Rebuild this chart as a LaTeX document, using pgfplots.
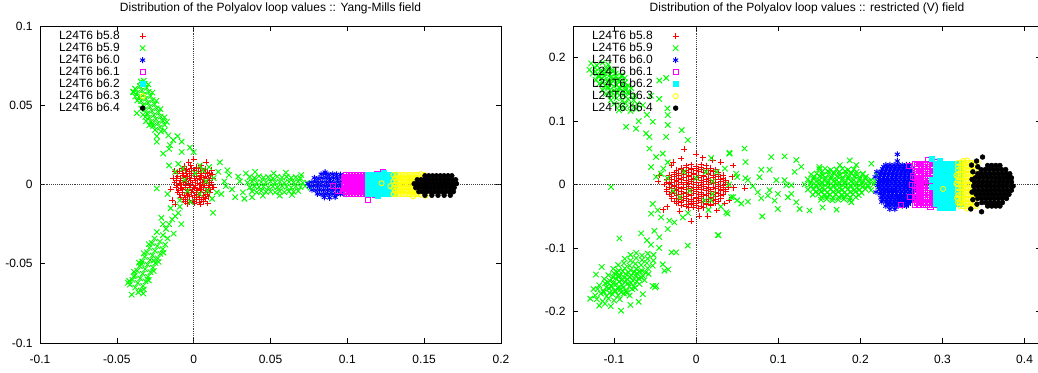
\documentclass[border=0pt]{standalone}
\usepackage{fontspec}
\setmainfont{Liberation Sans}
\usepackage{pgfplots}
\pgfplotsset{compat=1.18}
\definecolor{gpred}{rgb}{1,0,0}
\definecolor{gpgreen}{rgb}{0,1,0}
\definecolor{gpblue}{rgb}{0,0,1}
\definecolor{gpmag}{rgb}{1,0,1}
\definecolor{gpcyan}{rgb}{0,1,1}
\definecolor{gpyel}{rgb}{1,1,0}
\pgfplotsset{
  gp/.style={
    scale only axis, axis line style={line width=0.7pt},
    tick align=inside, major tick length=3.4pt,
    tick style={black, line width=0.5pt},
    /pgf/number format/assume math mode=true,
    tick label style={font=\fontsize{9}{10}\selectfont},
    xticklabel style={yshift=-5.5pt},
    yticklabel style={xshift=-2pt},
    scaled ticks=false,
    title style={font=\fontsize{9}{10}\selectfont, at={(0.5,1)}, anchor=base, yshift=5.25pt},
    extra x ticks={0}, extra y ticks={0}, extra x tick labels={}, extra y tick labels={},
    extra tick style={grid=major, major tick length=0pt, major grid style={black!75, densely dotted, line width=0.5pt}},
    legend plot pos=right, legend cell align=left,
    legend image code/.code={\path (0pt,0pt) (22pt,0pt); \draw[##1] plot coordinates {(17pt,0pt)};},
    legend style={draw=none, fill=none, inner sep=0pt, outer sep=0pt,
      at={(0,1)}, anchor=north west, xshift=14.25pt, yshift=-3.6pt,
      font=\fontsize{9}{10}\selectfont, row sep=1pt, column sep=0pt,
      nodes={inner sep=0pt, text height=6.5pt, text depth=1.5pt}},
  },
  s58/.style={only marks, mark=+, mark size=2.2pt, color=gpred, mark options={line width=0.7pt}},
  s59/.style={only marks, mark=x, mark size=2.9pt, color=gpgreen, mark options={line width=0.7pt}},
  s60/.style={only marks, mark=asterisk, mark size=2.2pt, color=gpblue, mark options={line width=0.7pt}},
  s61/.style={only marks, mark=square, mark size=1.9pt, color=gpmag, mark options={line width=0.7pt}},
  s62/.style={only marks, mark=square*, mark size=1.9pt, color=gpcyan, mark options={line width=0.4pt}},
  s63/.style={only marks, mark=o, mark size=1.9pt, color=gpyel, mark options={line width=0.7pt}},
  s64/.style={only marks, mark=*, mark size=1.8pt, color=black, mark options={line width=0.4pt}},
}
\begin{document}
\begin{tikzpicture}
\useasboundingbox (-30pt,-21.75pt) rectangle (748.5pt,257.25pt);
%================ LEFT =================
\begin{axis}[gp, at={(0,0)}, anchor=south west, width=345.75pt, height=237.75pt,
  xmin=-0.1, xmax=0.2, ymin=-0.1, ymax=0.1,
  xtick={-0.1,-0.05,0,0.05,0.1,0.15,0.2}, xticklabels={-0.1,-0.05,0,0.05,0.1,0.15,0.2},
  ytick={-0.1,-0.05,0,0.05,0.1}, yticklabels={-0.1,-0.05,0,0.05,0.1},
  title={Distribution of the Polyalov loop values :: Yang-Mills field}]
\addplot[s58] coordinates {
(-0.006,0.0115) (-0.002,0.012) (0.002,0.011) (0.005,0.0118)
(-0.009,0.0082) (-0.0055,0.0088) (-0.003,0.008) (0.0005,0.009) (0.0032,0.0083) (0.0062,0.0087) (0.009,0.0078)
(-0.0105,0.0052) (-0.0068,0.0058) (-0.0042,0.005) (-0.0012,0.0056) (0.0021,0.0051) (0.0048,0.0059) (0.0079,0.0053) (0.0108,0.0057)
(-0.0112,0.0024) (-0.0083,0.0028) (-0.0049,0.0021) (-0.0021,0.0027) (0.0012,0.0023) (0.0041,0.0029) (0.0072,0.0022) (0.0101,0.0026)
(-0.0108,-0.0006) (-0.0079,-0.0002) (-0.0052,-0.0008) (-0.0018,-0.0003) (0.0009,-0.0007) (0.0043,-0.0002) (0.0069,-0.0006) (0.0103,-0.0004)
(-0.0098,-0.0036) (-0.0072,-0.0032) (-0.0038,-0.0039) (-0.0011,-0.0033) (0.0022,-0.0037) (0.0049,-0.0031) (0.0081,-0.0038) (0.0107,-0.0034)
(-0.0092,-0.0064) (-0.0058,-0.0069) (-0.0031,-0.0062) (0.0002,-0.0067) (0.0031,-0.0063) (0.0062,-0.0068) (0.0088,-0.0061)
(-0.0068,-0.0096) (-0.0041,-0.0092) (-0.0009,-0.0098) (0.0021,-0.0093) (0.0052,-0.0097) (0.0078,-0.0091)
(-0.0042,-0.0121) (0.0003,-0.0118) (0.0041,-0.0123)
(-0.0075,0.0101) (-0.0045,0.0098) (-0.0015,0.0103) (0.0015,0.0099) (0.0045,0.0102) (0.0075,0.0098)
(-0.0105,0.0071) (-0.0075,0.0068) (-0.0045,0.0072) (-0.0015,0.0069) (0.0015,0.0071) (0.0045,0.0068) (0.0075,0.0072) (0.0105,0.0069)
(-0.0115,0.0041) (-0.0085,0.0038) (-0.0055,0.0042) (-0.0025,0.0039) (0.0005,0.0041) (0.0035,0.0038) (0.0065,0.0042) (0.0095,0.0039) (0.0125,0.0041)
(-0.0125,0.0011) (-0.0095,0.0008) (-0.0065,0.0012) (-0.0035,0.0009) (-0.0005,0.0011) (0.0025,0.0008) (0.0055,0.0012) (0.0085,0.0009) (0.0115,0.0011)
(-0.0115,-0.0019) (-0.0085,-0.0022) (-0.0055,-0.0018) (-0.0025,-0.0021) (0.0005,-0.0019) (0.0035,-0.0022) (0.0065,-0.0018) (0.0095,-0.0021) (0.0125,-0.0019)
(-0.0105,-0.0049) (-0.0075,-0.0052) (-0.0045,-0.0048) (-0.0015,-0.0051) (0.0015,-0.0049) (0.0045,-0.0052) (0.0075,-0.0048) (0.0105,-0.0051)
(-0.0085,-0.0079) (-0.0055,-0.0082) (-0.0025,-0.0078) (0.0005,-0.0081) (0.0035,-0.0079) (0.0065,-0.0082) (0.0095,-0.0078)
(-0.0055,-0.0109) (-0.0025,-0.0112) (0.0005,-0.0108) (0.0035,-0.0111) (0.0065,-0.0109)
(0.0081,0.014) (0.0001,0.016) (-0.0032,0.0142) (-0.015,-0.003) (-0.014,-0.01) (-0.012,-0.0125) (0.0125,0.0062) (0.0132,-0.0018) (-0.0132,0.0041) (0.0092,-0.012) (0.0118,0.009) (-0.0122,0.0085)
};
\addlegendentry{L24T6 b5.8}
\addplot[s59] coordinates {
(-0.0381,0.0604) (-0.035,0.062) (-0.0319,0.0636) (-0.0368,0.0578) (-0.0337,0.0594) (-0.0306,0.061)
(-0.0355,0.0552) (-0.0324,0.0568) (-0.0293,0.0584) (-0.0342,0.0526) (-0.0311,0.0542) (-0.028,0.0558)
(-0.0329,0.05) (-0.0298,0.0516) (-0.0267,0.0532) (-0.0316,0.0474) (-0.0285,0.049) (-0.0254,0.0506)
(-0.0303,0.0448) (-0.0272,0.0464) (-0.0241,0.048) (-0.029,0.0422) (-0.0259,0.0438) (-0.0228,0.0454)
(-0.0277,0.0396) (-0.0246,0.0412) (-0.0215,0.0428) (-0.0264,0.037) (-0.0233,0.0386) (-0.0202,0.0402)
(-0.0251,0.0344) (-0.022,0.036) (-0.0189,0.0376)
(-0.02945,0.0632) (-0.02685,0.058) (-0.02425,0.0528) (-0.02165,0.0476) (-0.01905,0.0424)
(-0.03925,0.0582) (-0.03665,0.053) (-0.03405,0.0478) (-0.03145,0.0426) (-0.02885,0.0374)
(-0.0393,0.0586) (-0.038,0.0555) (-0.037,0.045) (-0.0345,0.065) (-0.0325,0.0655) (-0.031,0.04) (-0.0213,0.0335) (-0.024,0.0305) (-0.019,0.034) (-0.027,0.038) (-0.0175,0.0395) (-0.033,0.044)
(-0.024,0.027) (-0.0198,0.0195) (-0.0078,0.0205) (-0.0024,0.0233) (0.0,0.0205) (-0.0165,0.031) (-0.0133,0.028) (-0.0078,0.027) (-0.0154,0.0248) (-0.0105,0.0305) (-0.016,0.0225)
(-0.0415,-0.0631) (-0.038,-0.065) (-0.0345,-0.0669) (-0.0399,-0.0602) (-0.0364,-0.0621) (-0.0329,-0.064)
(-0.0383,-0.0573) (-0.0348,-0.0592) (-0.0313,-0.0611) (-0.0367,-0.0544) (-0.0332,-0.0563) (-0.0297,-0.0582)
(-0.0351,-0.0515) (-0.0316,-0.0534) (-0.0281,-0.0553) (-0.0335,-0.0486) (-0.03,-0.0505) (-0.0265,-0.0524)
(-0.0319,-0.0457) (-0.0284,-0.0476) (-0.0249,-0.0495) (-0.0303,-0.0428) (-0.0268,-0.0447) (-0.0233,-0.0466)
(-0.0287,-0.0399) (-0.0252,-0.0418) (-0.0217,-0.0437) (-0.0271,-0.037) (-0.0236,-0.0389) (-0.0201,-0.0408)
(-0.0255,-0.0341) (-0.022,-0.036) (-0.0185,-0.0379)
(-0.0324,-0.0662) (-0.0292,-0.0604) (-0.026,-0.0546) (-0.0228,-0.0488) (-0.0196,-0.043)
(-0.042,-0.0609) (-0.0388,-0.0551) (-0.0356,-0.0493) (-0.0324,-0.0435) (-0.0292,-0.0377)
(-0.0403,-0.0695) (-0.0328,-0.0688) (-0.0427,-0.062) (-0.036,-0.068) (-0.03,-0.06) (-0.039,-0.058) (-0.026,-0.048) (-0.034,-0.05)
(-0.02,-0.032) (-0.018,-0.028) (-0.016,-0.025) (-0.014,-0.022) (-0.012,-0.02) (-0.01,-0.018) (-0.015,-0.015) (-0.008,-0.025) (-0.02,-0.025) (-0.024,-0.03) (-0.017,-0.034) (-0.013,-0.031) (-0.021,-0.021) (-0.009,-0.014)
(0.0365,0.0048) (0.0395,0.0041) (0.0425,0.0052) (0.0455,0.0043) (0.0485,0.0047) (0.0515,0.004) (0.0545,0.005) (0.0575,0.0044) (0.0605,0.0049) (0.0635,0.0042) (0.0665,0.0046) (0.0695,0.004)
(0.035,0.0012) (0.038,0.0018) (0.041,0.0011) (0.044,0.0016) (0.047,0.0013) (0.05,0.0019) (0.053,0.0012) (0.056,0.0017) (0.059,0.001) (0.062,0.0016) (0.065,0.0013) (0.068,0.0018) (0.071,0.0011)
(0.0365,-0.0018) (0.0395,-0.0011) (0.0425,-0.0016) (0.0455,-0.0013) (0.0485,-0.0019) (0.0515,-0.0012) (0.0545,-0.0017) (0.0575,-0.001) (0.0605,-0.0015) (0.0635,-0.0019) (0.0665,-0.0012) (0.0695,-0.0016) (0.0725,-0.001)
(0.038,-0.0043) (0.041,-0.0049) (0.044,-0.0041) (0.047,-0.0047) (0.05,-0.0044) (0.053,-0.005) (0.056,-0.0042) (0.059,-0.0048) (0.062,-0.0043) (0.065,-0.0046) (0.068,-0.0041)
(0.022,0.009) (0.023,0.006) (0.025,-0.003) (0.027,-0.008) (0.03,0.002) (0.032,-0.005) (0.029,0.005) (0.034,0.007) (0.033,-0.009) (0.038,-0.008) (0.04,0.008) (0.021,-0.001) (0.074,0.001) (0.076,-0.002) (0.045,-0.007) (0.052,0.007) (0.06,0.0075) (0.064,-0.0065) (0.056,-0.007) (0.07,0.006)
(-0.012,0.008) (-0.009,-0.01) (0.01,0.011) (0.013,0.004) (0.015,-0.005) (0.012,-0.009) (0.017,0.014) (-0.024,-0.0025) (0.0126,-0.0178) (-0.006,0.003) (0.004,-0.006) (0.001,0.007) (-0.004,-0.004) (0.008,0.002) (0.006,0.009) (-0.016,0.012) (-0.017,-0.006) (0.018,-0.006) (0.02,0.002) (-0.01,0.013) (0.004,0.012) (-0.002,-0.011) (0.009,-0.004) (-0.007,0.01) (0.016,0.008)
};
\addlegendentry{L24T6 b5.9}
\addplot[s60] coordinates {
(0.083,0.0065) (0.0855,0.0068) (0.088,0.0063) (0.0905,0.0067) (0.093,0.0064) (0.0955,0.0062)
(0.0785,0.0042) (0.081,0.0038) (0.0835,0.0041) (0.086,0.0043) (0.0885,0.0039) (0.091,0.0042) (0.0935,0.0038) (0.096,0.0041) (0.0985,0.004)
(0.0765,0.0014) (0.079,0.0017) (0.0815,0.0013) (0.084,0.0016) (0.0865,0.0014) (0.089,0.0017) (0.0915,0.0012) (0.094,0.0016) (0.0965,0.0014) (0.099,0.0017)
(0.0755,-0.0011) (0.078,-0.0008) (0.0805,-0.0012) (0.083,-0.0009) (0.0855,-0.0011) (0.088,-0.0008) (0.0905,-0.0012) (0.093,-0.001) (0.0955,-0.0008) (0.098,-0.0011) (0.1005,-0.0009)
(0.077,-0.0034) (0.0795,-0.0037) (0.082,-0.0033) (0.0845,-0.0036) (0.087,-0.0034) (0.0895,-0.0037) (0.092,-0.0033) (0.0945,-0.0036) (0.097,-0.0035) (0.0995,-0.0033)
(0.0805,-0.0059) (0.083,-0.0062) (0.0855,-0.0058) (0.088,-0.0061) (0.0905,-0.0059) (0.093,-0.0062) (0.0955,-0.0058) (0.098,-0.006)
(0.085,-0.0081) (0.0885,-0.0084) (0.092,-0.008) (0.0744,0.0005) (0.0855,0.0078)
};
\addlegendentry{L24T6 b6.0}
\addplot[s61] coordinates {
(0.099,0.006) (0.101,0.006) (0.103,0.006) (0.105,0.006) (0.107,0.006) (0.109,0.006) (0.111,0.006) (0.113,0.006) (0.115,0.006) (0.117,0.006)
(0.098,0.004) (0.1,0.004) (0.102,0.004) (0.104,0.004) (0.106,0.004) (0.108,0.004) (0.11,0.004) (0.112,0.004) (0.114,0.004) (0.116,0.004)
(0.099,0.002) (0.101,0.002) (0.103,0.002) (0.105,0.002) (0.107,0.002) (0.109,0.002) (0.111,0.002) (0.113,0.002) (0.115,0.002) (0.117,0.002)
(0.098,0) (0.1,0) (0.102,0) (0.104,0) (0.106,0) (0.108,0) (0.11,0) (0.112,0) (0.114,0) (0.116,0)
(0.099,-0.002) (0.101,-0.002) (0.103,-0.002) (0.105,-0.002) (0.107,-0.002) (0.109,-0.002) (0.111,-0.002) (0.113,-0.002) (0.115,-0.002) (0.117,-0.002)
(0.098,-0.004) (0.1,-0.004) (0.102,-0.004) (0.104,-0.004) (0.106,-0.004) (0.108,-0.004) (0.11,-0.004) (0.112,-0.004) (0.114,-0.004) (0.116,-0.004)
(0.099,-0.006) (0.101,-0.006) (0.103,-0.006) (0.105,-0.006) (0.107,-0.006) (0.109,-0.006) (0.111,-0.006) (0.113,-0.006) (0.115,-0.006) (0.117,-0.006)
(0.0985,0.005) (0.1005,0.005) (0.1025,0.005) (0.1045,0.005) (0.1065,0.005) (0.1085,0.005) (0.1105,0.005) (0.1125,0.005)
(0.0995,0.003) (0.1015,0.003) (0.1035,0.003) (0.1055,0.003) (0.1075,0.003) (0.1095,0.003) (0.1115,0.003) (0.1135,0.003)
(0.0985,0.001) (0.1005,0.001) (0.1025,0.001) (0.1045,0.001) (0.1065,0.001) (0.1085,0.001) (0.1105,0.001) (0.1125,0.001)
(0.0995,-0.001) (0.1015,-0.001) (0.1035,-0.001) (0.1055,-0.001) (0.1075,-0.001) (0.1095,-0.001) (0.1115,-0.001) (0.1135,-0.001)
(0.0985,-0.003) (0.1005,-0.003) (0.1025,-0.003) (0.1045,-0.003) (0.1065,-0.003) (0.1085,-0.003) (0.1105,-0.003) (0.1125,-0.003)
(0.0995,-0.005) (0.1015,-0.005) (0.1035,-0.005) (0.1055,-0.005) (0.1075,-0.005) (0.1095,-0.005) (0.1115,-0.005) (0.1135,-0.005)
(0.0907,-0.001) (0.094,-0.0038) (0.1136,-0.0095) (0.123,0.0078) (0.119,0.0065) (0.118,-0.0065)
};
\addlegendentry{L24T6 b6.1}
\addplot[s62] coordinates {
(0.113,0.006) (0.116,0.006) (0.119,0.006) (0.122,0.006) (0.125,0.006) (0.128,0.006) (0.131,0.006)
(0.113,0.003) (0.116,0.003) (0.119,0.003) (0.122,0.003) (0.125,0.003) (0.128,0.003) (0.131,0.003)
(0.113,0) (0.116,0) (0.119,0) (0.122,0) (0.125,0) (0.128,0) (0.131,0)
(0.113,-0.003) (0.116,-0.003) (0.119,-0.003) (0.122,-0.003) (0.125,-0.003) (0.128,-0.003) (0.131,-0.003)
(0.113,-0.006) (0.116,-0.006) (0.119,-0.006) (0.122,-0.006) (0.125,-0.006) (0.128,-0.006) (0.131,-0.006)
(0.124,0.0072) (0.12,-0.0072)
};
\addlegendentry{L24T6 b6.2}
\addplot[s63] coordinates {
(0.13,0.006) (0.132,0.006) (0.134,0.006) (0.136,0.006) (0.138,0.006) (0.14,0.006) (0.142,0.006) (0.144,0.006) (0.146,0.006)
(0.131,0.004) (0.133,0.004) (0.135,0.004) (0.137,0.004) (0.139,0.004) (0.141,0.004) (0.143,0.004) (0.145,0.004)
(0.13,0.002) (0.132,0.002) (0.134,0.002) (0.136,0.002) (0.138,0.002) (0.14,0.002) (0.142,0.002) (0.144,0.002)
(0.131,0) (0.133,0) (0.135,0) (0.137,0) (0.139,0) (0.141,0) (0.143,0)
(0.13,-0.002) (0.132,-0.002) (0.134,-0.002) (0.136,-0.002) (0.138,-0.002) (0.14,-0.002) (0.142,-0.002) (0.144,-0.002)
(0.131,-0.004) (0.133,-0.004) (0.135,-0.004) (0.137,-0.004) (0.139,-0.004) (0.141,-0.004) (0.143,-0.004) (0.145,-0.004)
(0.13,-0.006) (0.132,-0.006) (0.134,-0.006) (0.136,-0.006) (0.138,-0.006) (0.14,-0.006) (0.142,-0.006) (0.144,-0.006) (0.146,-0.006)
(0.148,0.0065) (0.15,0.006) (0.148,-0.0065) (0.151,-0.007)
(0.1223,0.0008) (0.128,-0.001) (0.1303,-0.006) (0.1429,-0.0074)
};
\addlegendentry{L24T6 b6.3}
\addplot[s64] coordinates {
(0.1505,0.0055) (0.153,0.0055) (0.1555,0.0055) (0.158,0.0055) (0.1605,0.0055) (0.163,0.0055) (0.1655,0.0055) (0.168,0.0055)
(0.1455,0.003) (0.148,0.003) (0.1505,0.003) (0.153,0.003) (0.1555,0.003) (0.158,0.003) (0.1605,0.003) (0.163,0.003) (0.1655,0.003) (0.168,0.003) (0.1705,0.003)
(0.1435,0.0005) (0.146,0.0005) (0.1485,0.0005) (0.151,0.0005) (0.1535,0.0005) (0.156,0.0005) (0.1585,0.0005) (0.161,0.0005) (0.1635,0.0005) (0.166,0.0005) (0.1685,0.0005) (0.171,0.0005)
(0.1445,-0.002) (0.147,-0.002) (0.1495,-0.002) (0.152,-0.002) (0.1545,-0.002) (0.157,-0.002) (0.1595,-0.002) (0.162,-0.002) (0.1645,-0.002) (0.167,-0.002) (0.1695,-0.002)
(0.1465,-0.0045) (0.149,-0.0045) (0.1515,-0.0045) (0.154,-0.0045) (0.1565,-0.0045) (0.159,-0.0045) (0.1615,-0.0045) (0.164,-0.0045) (0.1665,-0.0045) (0.169,-0.0045)
(0.1505,-0.0068) (0.155,-0.0068) (0.159,-0.0068) (0.163,-0.0068) (0.167,-0.0068)
};
\addlegendentry{L24T6 b6.4}
\end{axis}
%================ RIGHT =================
\begin{axis}[gp, at={(399.75pt,0)}, anchor=south west, width=351pt, height=237.75pt,
  xmin=-0.15, xmax=0.42, ymin=-0.25, ymax=0.25,
  xtick={-0.1,0,0.1,0.2,0.3,0.4}, xticklabels={-0.1,0,0.1,0.2,0.3,0.4},
  ytick={-0.2,-0.1,0,0.1,0.2}, yticklabels={-0.2,-0.1,0,0.1,0.2},
  title={Distribution of the Polyalov loop values :: restricted (V) field}]
\addplot[s58] coordinates {
(-0.012,0.030) (-0.006,0.031) (0.000,0.029) (0.006,0.031) (0.012,0.030)
(-0.024,0.0225) (-0.018,0.0235) (-0.012,0.0215) (-0.006,0.023) (0,0.022) (0.006,0.0235) (0.012,0.0225) (0.018,0.0215) (0.024,0.023)
(-0.033,0.015) (-0.027,0.016) (-0.021,0.014) (-0.015,0.0155) (-0.009,0.0145) (-0.003,0.016) (0.003,0.015) (0.009,0.014) (0.015,0.0155) (0.021,0.0145) (0.027,0.016) (0.033,0.015)
(-0.036,0.0075) (-0.030,0.0085) (-0.024,0.0065) (-0.018,0.008) (-0.012,0.007) (-0.006,0.0085) (0,0.0075) (0.006,0.0065) (0.012,0.008) (0.018,0.007) (0.024,0.0085) (0.030,0.0075) (0.036,0.0065)
(-0.039,0) (-0.033,0.001) (-0.027,-0.001) (-0.021,0.0005) (-0.015,-0.0005) (-0.009,0.001) (-0.003,0) (0.003,-0.001) (0.009,0.0005) (0.015,-0.0005) (0.021,0.001) (0.027,0) (0.033,-0.001) (0.039,0.0005)
(-0.036,-0.0075) (-0.030,-0.0065) (-0.024,-0.0085) (-0.018,-0.007) (-0.012,-0.008) (-0.006,-0.0065) (0,-0.0075) (0.006,-0.0085) (0.012,-0.007) (0.018,-0.008) (0.024,-0.0065) (0.030,-0.0075) (0.036,-0.0085)
(-0.033,-0.015) (-0.027,-0.014) (-0.021,-0.016) (-0.015,-0.0145) (-0.009,-0.0155) (-0.003,-0.014) (0.003,-0.015) (0.009,-0.016) (0.015,-0.0145) (0.021,-0.0155) (0.027,-0.014) (0.033,-0.015)
(-0.030,-0.0225) (-0.024,-0.0215) (-0.018,-0.0235) (-0.012,-0.022) (-0.006,-0.023) (0,-0.0215) (0.006,-0.0225) (0.012,-0.0235) (0.018,-0.022) (0.024,-0.023) (0.030,-0.0215)
(-0.024,-0.030) (-0.018,-0.029) (-0.012,-0.031) (-0.006,-0.0295) (0,-0.0305) (0.006,-0.029) (0.012,-0.030) (0.018,-0.031) (0.024,-0.0295)
(-0.009,-0.037) (-0.003,-0.036) (0.003,-0.038) (0.009,-0.037)
(-0.018,0.026) (-0.012,0.027) (-0.006,0.025) (0,0.026) (0.006,0.027) (0.012,0.025) (0.018,0.026)
(-0.027,0.019) (-0.021,0.018) (-0.015,0.02) (-0.009,0.019) (-0.003,0.018) (0.003,0.02) (0.009,0.019) (0.015,0.018) (0.021,0.02) (0.027,0.019)
(-0.033,0.011) (-0.027,0.012) (-0.021,0.01) (-0.015,0.011) (-0.009,0.012) (-0.003,0.01) (0.003,0.011) (0.009,0.012) (0.015,0.01) (0.021,0.011) (0.027,0.012) (0.033,0.01)
(-0.036,0.004) (-0.030,0.003) (-0.024,0.005) (-0.018,0.004) (-0.012,0.003) (-0.006,0.005) (0,0.004) (0.006,0.003) (0.012,0.005) (0.018,0.004) (0.024,0.003) (0.030,0.005) (0.036,0.004)
(-0.033,-0.004) (-0.027,-0.003) (-0.021,-0.005) (-0.015,-0.004) (-0.009,-0.003) (-0.003,-0.005) (0.003,-0.004) (0.009,-0.003) (0.015,-0.005) (0.021,-0.004) (0.027,-0.003) (0.033,-0.005) (0.039,-0.004)
(-0.036,-0.011) (-0.030,-0.012) (-0.024,-0.01) (-0.018,-0.011) (-0.012,-0.012) (-0.006,-0.01) (0,-0.011) (0.006,-0.012) (0.012,-0.01) (0.018,-0.011) (0.024,-0.012) (0.030,-0.01) (0.036,-0.011)
(-0.030,-0.019) (-0.024,-0.018) (-0.018,-0.02) (-0.012,-0.019) (-0.006,-0.018) (0,-0.02) (0.006,-0.019) (0.012,-0.018) (0.018,-0.02) (0.024,-0.019) (0.030,-0.018)
(-0.027,-0.026) (-0.021,-0.027) (-0.015,-0.025) (-0.009,-0.026) (-0.003,-0.027) (0.003,-0.025) (0.009,-0.026) (0.015,-0.027) (0.021,-0.025) (0.027,-0.026)
(-0.018,-0.033) (-0.012,-0.034) (-0.006,-0.032) (0,-0.033) (0.006,-0.034) (0.012,-0.032) (0.018,-0.033)
(-0.0143,0.0556) (-0.0061,-0.058) (0.004,-0.05) (0.014,-0.05) (0.045,0.03) (-0.045,0.015) (-0.04,-0.04) (0.04,-0.025) (0.046,-0.005) (0.03,0.035) (-0.03,0.03) (0.02,0.038) (-0.028,0.035) (0.035,-0.03) (-0.035,-0.035) (0.044,0.012) (0.059,-0.006) (-0.046,0.005) (0.0,0.048) (-0.018,0.041) (0.008,0.042) (-0.02,-0.042) (0.025,-0.041)
};
\addlegendentry{L24T6 b5.8}
\addplot[s59] coordinates {
(-0.128,0.191) (-0.121,0.188) (-0.114,0.192) (-0.107,0.189)
(-0.130,0.181) (-0.123,0.184) (-0.116,0.18) (-0.109,0.183) (-0.102,0.181)
(-0.126,0.175) (-0.119,0.172) (-0.112,0.176) (-0.105,0.173) (-0.098,0.175) (-0.091,0.172)
(-0.122,0.165) (-0.115,0.168) (-0.108,0.164) (-0.101,0.167) (-0.094,0.165) (-0.087,0.168)
(-0.118,0.159) (-0.111,0.156) (-0.104,0.16) (-0.097,0.157) (-0.09,0.159) (-0.083,0.156)
(-0.114,0.149) (-0.107,0.152) (-0.1,0.148) (-0.093,0.151) (-0.086,0.149) (-0.079,0.152)
(-0.11,0.143) (-0.103,0.14) (-0.096,0.144) (-0.089,0.141) (-0.082,0.143) (-0.075,0.14)
(-0.104,0.133) (-0.097,0.136) (-0.09,0.132) (-0.083,0.135) (-0.076,0.133)
(-0.1,0.127) (-0.093,0.124) (-0.086,0.128) (-0.079,0.125) (-0.072,0.127)
(-0.094,0.117) (-0.087,0.12) (-0.08,0.116) (-0.073,0.119)
(-0.1225,0.178) (-0.1155,0.177) (-0.1085,0.179) (-0.1015,0.178)
(-0.1185,0.17) (-0.1115,0.171) (-0.1045,0.169) (-0.0975,0.17) (-0.0905,0.171)
(-0.1145,0.162) (-0.1075,0.161) (-0.1005,0.163) (-0.0935,0.162) (-0.0865,0.161)
(-0.1075,0.154) (-0.1005,0.155) (-0.0935,0.153) (-0.0865,0.154)
(-0.1035,0.146) (-0.0965,0.145) (-0.0895,0.147) (-0.0825,0.146)
(-0.0366,0.168) (-0.0448,0.164) (-0.0346,0.1095) (-0.0346,0.094) (-0.0176,0.0857) (-0.0102,0.07) (-0.0366,0.075) (-0.0407,0.0487) (-0.057,0.0567) (-0.0488,0.0434) (-0.061,0.0805) (-0.057,0.075) (-0.0529,0.099) (-0.0732,0.088) (-0.0854,0.091) (-0.0549,0.0275) (-0.0488,0.012) (-0.0427,0.017) (-0.1037,-0.004) (-0.035,0.12) (-0.06,0.11) (-0.07,0.1) (-0.045,0.135) (-0.065,0.125) (-0.055,0.14)
(-0.118,-0.191) (-0.111,-0.188) (-0.104,-0.192)
(-0.121,-0.181) (-0.114,-0.184) (-0.107,-0.18) (-0.1,-0.183) (-0.093,-0.181)
(-0.123,-0.175) (-0.116,-0.172) (-0.109,-0.176) (-0.102,-0.173) (-0.095,-0.175) (-0.088,-0.172) (-0.081,-0.175)
(-0.12,-0.165) (-0.113,-0.168) (-0.106,-0.164) (-0.099,-0.167) (-0.092,-0.165) (-0.085,-0.168) (-0.078,-0.165)
(-0.118,-0.159) (-0.111,-0.156) (-0.104,-0.16) (-0.097,-0.157) (-0.09,-0.159) (-0.083,-0.156) (-0.076,-0.16) (-0.069,-0.157)
(-0.112,-0.149) (-0.105,-0.152) (-0.098,-0.148) (-0.091,-0.151) (-0.084,-0.149) (-0.077,-0.152) (-0.07,-0.148) (-0.063,-0.151)
(-0.107,-0.143) (-0.1,-0.14) (-0.093,-0.144) (-0.086,-0.141) (-0.079,-0.143) (-0.072,-0.14) (-0.065,-0.144) (-0.058,-0.141)
(-0.101,-0.133) (-0.094,-0.136) (-0.087,-0.132) (-0.08,-0.135) (-0.073,-0.133) (-0.066,-0.136) (-0.059,-0.132)
(-0.095,-0.127) (-0.088,-0.124) (-0.081,-0.128) (-0.074,-0.125) (-0.067,-0.127) (-0.06,-0.124) (-0.053,-0.128)
(-0.087,-0.117) (-0.08,-0.12) (-0.073,-0.116) (-0.066,-0.119) (-0.059,-0.117) (-0.052,-0.12)
(-0.08,-0.111) (-0.073,-0.108) (-0.066,-0.112) (-0.059,-0.109) (-0.052,-0.111)
(-0.1125,-0.17) (-0.1055,-0.171) (-0.0985,-0.169) (-0.0915,-0.17) (-0.0845,-0.171)
(-0.1095,-0.162) (-0.1025,-0.161) (-0.0955,-0.163) (-0.0885,-0.162) (-0.0815,-0.161) (-0.0745,-0.163)
(-0.1075,-0.154) (-0.1005,-0.155) (-0.0935,-0.153) (-0.0865,-0.154) (-0.0795,-0.155) (-0.0725,-0.153)
(-0.1015,-0.146) (-0.0945,-0.145) (-0.0875,-0.147) (-0.0805,-0.146) (-0.0735,-0.145) (-0.0665,-0.147)
(-0.0965,-0.138) (-0.0895,-0.137) (-0.0825,-0.139) (-0.0755,-0.138) (-0.0685,-0.137) (-0.0615,-0.139)
(-0.129,-0.18) (-0.0915,-0.199) (-0.0935,-0.085) (-0.122,-0.142) (-0.065,-0.173) (-0.0488,-0.16) (-0.067,-0.077) (-0.0509,-0.073) (-0.0448,-0.083) (-0.0346,-0.0703) (-0.0326,-0.057) (-0.0265,-0.0598) (-0.0163,-0.0519) (-0.0102,-0.0963) (-0.0529,-0.0306) (-0.0468,-0.0407) (-0.0549,-0.046) (-0.0427,-0.0519) (-0.0244,-0.107) (-0.03,-0.107) (-0.0387,-0.136) (-0.034,-0.134) (-0.0407,-0.126) (-0.0529,-0.16) (-0.05,-0.162) (0.0264,-0.0798) (-0.055,-0.095) (-0.045,-0.1) (-0.06,-0.088) (-0.115,-0.13) (-0.125,-0.165) (-0.07,-0.185) (-0.08,-0.19)
(0.150,0.024) (0.157,0.025) (0.164,0.023) (0.171,0.024) (0.178,0.025) (0.185,0.023) (0.192,0.024)
(0.140,0.016) (0.147,0.017) (0.154,0.015) (0.161,0.016) (0.168,0.017) (0.175,0.015) (0.182,0.016) (0.189,0.017) (0.196,0.015) (0.203,0.016)
(0.136,0.008) (0.143,0.009) (0.150,0.007) (0.157,0.008) (0.164,0.009) (0.171,0.007) (0.178,0.008) (0.185,0.009) (0.192,0.007) (0.199,0.008) (0.206,0.009) (0.213,0.007)
(0.132,0) (0.139,0.001) (0.146,-0.001) (0.153,0) (0.160,0.001) (0.167,-0.001) (0.174,0) (0.181,0.001) (0.188,-0.001) (0.195,0) (0.202,0.001) (0.209,-0.001) (0.216,0)
(0.136,-0.008) (0.143,-0.007) (0.150,-0.009) (0.157,-0.008) (0.164,-0.007) (0.171,-0.009) (0.178,-0.008) (0.185,-0.007) (0.192,-0.009) (0.199,-0.008) (0.206,-0.007) (0.213,-0.009)
(0.142,-0.016) (0.149,-0.015) (0.156,-0.017) (0.163,-0.016) (0.170,-0.015) (0.177,-0.017) (0.184,-0.016) (0.191,-0.015) (0.198,-0.017)
(0.152,-0.024) (0.159,-0.023) (0.166,-0.025) (0.173,-0.024) (0.180,-0.023) (0.187,-0.025)
(0.1535,0.02) (0.1605,0.021) (0.1675,0.019) (0.1745,0.02) (0.1815,0.021) (0.1885,0.019) (0.1955,0.02)
(0.1435,0.012) (0.1505,0.013) (0.1575,0.011) (0.1645,0.012) (0.1715,0.013) (0.1785,0.011) (0.1855,0.012) (0.1925,0.013) (0.1995,0.011) (0.2065,0.012)
(0.1395,0.004) (0.1465,0.005) (0.1535,0.003) (0.1605,0.004) (0.1675,0.005) (0.1745,0.003) (0.1815,0.004) (0.1885,0.005) (0.1955,0.003) (0.2025,0.004) (0.2095,0.005)
(0.1395,-0.004) (0.1465,-0.003) (0.1535,-0.005) (0.1605,-0.004) (0.1675,-0.003) (0.1745,-0.005) (0.1815,-0.004) (0.1885,-0.003) (0.1955,-0.005) (0.2025,-0.004) (0.2095,-0.003)
(0.1455,-0.012) (0.1525,-0.011) (0.1595,-0.013) (0.1665,-0.012) (0.1735,-0.011) (0.1805,-0.013) (0.1875,-0.012) (0.1945,-0.011) (0.2015,-0.013)
(0.1525,-0.02) (0.1595,-0.019) (0.1665,-0.021) (0.1735,-0.02) (0.1805,-0.019) (0.1875,-0.021) (0.1945,-0.02)
(0.218,0.005) (0.222,-0.003) (0.22,0.015)
(0.0589,0.0567) (0.0406,0.0487) (0.0601,0.0354) (0.0915,0.0434) (0.1077,0.0444) (0.122,0.0386) (0.0793,0.0233) (0.0894,0.0233) (0.0772,0.0116) (0.063,0.0068) (0.069,-0.0027) (0.0894,-0.009) (0.0793,-0.0217) (0.063,-0.027) (0.0805,-0.0503) (0.0976,0.0068) (0.0995,-0.0148) (0.0955,-0.0254) (0.0995,-0.0386) (0.1117,-0.0201) (0.1159,-0.0148) (0.1159,-0.0011) (0.1098,-0.0011) (0.1077,0.0068) (0.1199,0.02) (0.128,0.028) (0.0427,-0.02) (0.0366,-0.0439) (0.0488,0.017) (0.0751,-0.0122) (0.0873,-0.0175) (0.122,-0.028) (0.126,-0.0386) (0.138,-0.041) (0.154,-0.036) (0.171,-0.0397) (0.189,-0.028) (0.187,0.038) (0.195,0.0306) (0.203,0.017) (0.2134,0.0328) (0.175,0.0306) (0.150,0.0275)
(0.04,0.0) (0.045,-0.02) (0.05,0.012) (-0.035,0.01) (-0.04,0.025) (0.01,-0.025) (0.02,-0.015) (0.025,0.02) (-0.015,0.02) (0.0,0.01) (-0.02,-0.02) (0.03,-0.035) (0.0382,-0.046) (0.0272,-0.08) (-0.01,-0.045) (0.018,-0.025) (0.035,0.025) (0.012,0.02) (-0.008,-0.01) (0.02,0.005) (-0.028,-0.01) (0.015,-0.04) (0.0406,0.05) (0.0183,0.0418) (-0.0346,0.0349) (0.05,-0.025) (0.06,0.01) (0.055,-0.03)
};
\addlegendentry{L24T6 b5.9}
\addplot[s60] coordinates {
(0.231,0.031) (0.236,0.031) (0.241,0.031) (0.246,0.031) (0.251,0.031) (0.256,0.031) (0.260,0.031)
(0.227,0.0245) (0.232,0.0245) (0.237,0.0245) (0.242,0.0245) (0.247,0.0245) (0.252,0.0245) (0.257,0.0245) (0.262,0.0245)
(0.224,0.018) (0.229,0.018) (0.234,0.018) (0.239,0.018) (0.244,0.018) (0.249,0.018) (0.254,0.018) (0.259,0.018) (0.264,0.018)
(0.223,0.0115) (0.228,0.0115) (0.233,0.0115) (0.238,0.0115) (0.243,0.0115) (0.248,0.0115) (0.253,0.0115) (0.258,0.0115) (0.263,0.0115) (0.267,0.0115)
(0.222,0.005) (0.227,0.005) (0.232,0.005) (0.237,0.005) (0.242,0.005) (0.247,0.005) (0.252,0.005) (0.257,0.005) (0.262,0.005) (0.267,0.005)
(0.221,-0.0015) (0.226,-0.0015) (0.231,-0.0015) (0.236,-0.0015) (0.241,-0.0015) (0.246,-0.0015) (0.251,-0.0015) (0.256,-0.0015) (0.261,-0.0015) (0.266,-0.0015)
(0.223,-0.008) (0.228,-0.008) (0.233,-0.008) (0.238,-0.008) (0.243,-0.008) (0.248,-0.008) (0.253,-0.008) (0.258,-0.008) (0.263,-0.008) (0.267,-0.008)
(0.224,-0.0145) (0.229,-0.0145) (0.234,-0.0145) (0.239,-0.0145) (0.244,-0.0145) (0.249,-0.0145) (0.254,-0.0145) (0.259,-0.0145) (0.264,-0.0145)
(0.225,-0.021) (0.230,-0.021) (0.235,-0.021) (0.240,-0.021) (0.245,-0.021) (0.250,-0.021) (0.255,-0.021) (0.260,-0.021) (0.265,-0.021)
(0.226,-0.0275) (0.231,-0.0275) (0.236,-0.0275) (0.241,-0.0275) (0.246,-0.0275) (0.251,-0.0275) (0.256,-0.0275) (0.261,-0.0275)
(0.231,-0.034) (0.236,-0.034) (0.241,-0.034) (0.246,-0.034) (0.251,-0.034) (0.256,-0.034)
(0.236,-0.039) (0.242,-0.039)
(0.2285,0.028) (0.2335,0.028) (0.2385,0.028) (0.2435,0.028) (0.2485,0.028) (0.2535,0.028) (0.2585,0.028)
(0.2255,0.021) (0.2305,0.021) (0.2355,0.021) (0.2405,0.021) (0.2455,0.021) (0.2505,0.021) (0.2555,0.021) (0.2605,0.021)
(0.2245,0.0148) (0.2295,0.0148) (0.2345,0.0148) (0.2395,0.0148) (0.2445,0.0148) (0.2495,0.0148) (0.2545,0.0148) (0.2595,0.0148) (0.2645,0.0148)
(0.2245,0.008) (0.2295,0.008) (0.2345,0.008) (0.2395,0.008) (0.2445,0.008) (0.2495,0.008) (0.2545,0.008) (0.2595,0.008) (0.2645,0.008)
(0.2235,0.0018) (0.2285,0.0018) (0.2335,0.0018) (0.2385,0.0018) (0.2435,0.0018) (0.2485,0.0018) (0.2535,0.0018) (0.2585,0.0018) (0.2635,0.0018)
(0.2235,-0.0048) (0.2285,-0.0048) (0.2335,-0.0048) (0.2385,-0.0048) (0.2435,-0.0048) (0.2485,-0.0048) (0.2535,-0.0048) (0.2585,-0.0048) (0.2635,-0.0048)
(0.2255,-0.011) (0.2305,-0.011) (0.2355,-0.011) (0.2405,-0.011) (0.2455,-0.011) (0.2505,-0.011) (0.2555,-0.011) (0.2605,-0.011) (0.2655,-0.011)
(0.2275,-0.018) (0.2325,-0.018) (0.2375,-0.018) (0.2425,-0.018) (0.2475,-0.018) (0.2525,-0.018) (0.2575,-0.018) (0.2625,-0.018)
(0.2275,-0.024) (0.2325,-0.024) (0.2375,-0.024) (0.2425,-0.024) (0.2475,-0.024) (0.2525,-0.024) (0.2575,-0.024) (0.2625,-0.024)
(0.2335,-0.031) (0.2385,-0.031) (0.2435,-0.031) (0.2485,-0.031) (0.2535,-0.031) (0.2585,-0.031)
(0.245,0.0476) (0.245,0.037) (0.218,0.012) (0.219,-0.012) (0.22,0.02)
};
\addlegendentry{L24T6 b6.0}
\addplot[s61] coordinates {
(0.267,0.033) (0.2715,0.033) (0.276,0.033) (0.2805,0.033) (0.285,0.033) (0.2895,0.033) (0.294,0.033)
(0.269,0.0275) (0.2735,0.0275) (0.278,0.0275) (0.2825,0.0275) (0.287,0.0275) (0.2915,0.0275) (0.296,0.0275)
(0.267,0.022) (0.2715,0.022) (0.276,0.022) (0.2805,0.022) (0.285,0.022) (0.2895,0.022) (0.294,0.022)
(0.269,0.0165) (0.2735,0.0165) (0.278,0.0165) (0.2825,0.0165) (0.287,0.0165) (0.2915,0.0165) (0.296,0.0165)
(0.267,0.011) (0.2715,0.011) (0.276,0.011) (0.2805,0.011) (0.285,0.011) (0.2895,0.011) (0.294,0.011)
(0.269,0.0055) (0.2735,0.0055) (0.278,0.0055) (0.2825,0.0055) (0.287,0.0055) (0.2915,0.0055) (0.296,0.0055)
(0.267,0) (0.2715,0) (0.276,0) (0.2805,0) (0.285,0) (0.2895,0) (0.294,0)
(0.269,-0.0055) (0.2735,-0.0055) (0.278,-0.0055) (0.2825,-0.0055) (0.287,-0.0055) (0.2915,-0.0055) (0.296,-0.0055)
(0.267,-0.011) (0.2715,-0.011) (0.276,-0.011) (0.2805,-0.011) (0.285,-0.011) (0.2895,-0.011) (0.294,-0.011)
(0.269,-0.0165) (0.2735,-0.0165) (0.278,-0.0165) (0.2825,-0.0165) (0.287,-0.0165) (0.2915,-0.0165) (0.296,-0.0165)
(0.267,-0.022) (0.2715,-0.022) (0.276,-0.022) (0.2805,-0.022) (0.285,-0.022) (0.2895,-0.022) (0.294,-0.022)
(0.269,-0.0275) (0.2735,-0.0275) (0.278,-0.0275) (0.2825,-0.0275) (0.287,-0.0275) (0.2915,-0.0275) (0.296,-0.0275)
(0.267,-0.032) (0.2715,-0.032) (0.276,-0.032) (0.2805,-0.032) (0.285,-0.032) (0.2895,-0.032) (0.294,-0.032)
(0.2692,0.030) (0.2737,0.030) (0.2782,0.030) (0.2827,0.030) (0.2872,0.030)
(0.2692,0.0245) (0.2737,0.0245) (0.2782,0.0245) (0.2827,0.0245) (0.2872,0.0245)
(0.2692,0.019) (0.2737,0.019) (0.2782,0.019) (0.2827,0.019) (0.2872,0.019)
(0.2692,0.0135) (0.2737,0.0135) (0.2782,0.0135) (0.2827,0.0135) (0.2872,0.0135)
(0.2692,0.008) (0.2737,0.008) (0.2782,0.008) (0.2827,0.008) (0.2872,0.008)
(0.2692,0.0025) (0.2737,0.0025) (0.2782,0.0025) (0.2827,0.0025) (0.2872,0.0025)
(0.2692,-0.003) (0.2737,-0.003) (0.2782,-0.003) (0.2827,-0.003) (0.2872,-0.003)
(0.2692,-0.0085) (0.2737,-0.0085) (0.2782,-0.0085) (0.2827,-0.0085) (0.2872,-0.0085)
(0.2692,-0.014) (0.2737,-0.014) (0.2782,-0.014) (0.2827,-0.014) (0.2872,-0.014)
(0.2692,-0.0195) (0.2737,-0.0195) (0.2782,-0.0195) (0.2827,-0.0195) (0.2872,-0.0195)
(0.2692,-0.025) (0.2737,-0.025) (0.2782,-0.025) (0.2827,-0.025) (0.2872,-0.025)
(0.2692,-0.0295) (0.2737,-0.0295) (0.2782,-0.0295) (0.2827,-0.0295) (0.2872,-0.0295)
(0.259,0.0286) (0.25,-0.0317) (0.261,-0.02) (0.264,0.0127) (0.2634,-0.001) (0.2825,0.039) (0.2735,0.0328) (0.2854,-0.0349) (0.293,0.036)
};
\addlegendentry{L24T6 b6.1}
\addplot[s62] coordinates {
(0.292,0.033) (0.297,0.033) (0.302,0.033) (0.307,0.033) (0.312,0.033) (0.317,0.033) (0.322,0.033)
(0.292,0.026) (0.297,0.026) (0.302,0.026) (0.307,0.026) (0.312,0.026) (0.317,0.026) (0.322,0.026)
(0.292,0.019) (0.297,0.019) (0.302,0.019) (0.307,0.019) (0.312,0.019) (0.317,0.019) (0.322,0.019)
(0.292,0.012) (0.297,0.012) (0.302,0.012) (0.307,0.012) (0.312,0.012) (0.317,0.012) (0.322,0.012)
(0.292,0.005) (0.297,0.005) (0.302,0.005) (0.307,0.005) (0.312,0.005) (0.317,0.005) (0.322,0.005)
(0.292,-0.002) (0.297,-0.002) (0.302,-0.002) (0.307,-0.002) (0.312,-0.002) (0.317,-0.002) (0.322,-0.002)
(0.292,-0.009) (0.297,-0.009) (0.302,-0.009) (0.307,-0.009) (0.312,-0.009) (0.317,-0.009) (0.322,-0.009)
(0.292,-0.016) (0.297,-0.016) (0.302,-0.016) (0.307,-0.016) (0.312,-0.016) (0.317,-0.016) (0.322,-0.016)
(0.292,-0.023) (0.297,-0.023) (0.302,-0.023) (0.307,-0.023) (0.312,-0.023) (0.317,-0.023) (0.322,-0.023)
(0.292,-0.030) (0.297,-0.030) (0.302,-0.030) (0.307,-0.030) (0.312,-0.030) (0.317,-0.030) (0.322,-0.030)
(0.297,-0.036) (0.302,-0.036) (0.307,-0.036) (0.312,-0.036)
(0.2866,0.0408) (0.297,0.038) (0.2866,0.0075) (0.287,-0.004)
};
\addlegendentry{L24T6 b6.2}
\addplot[s63] coordinates {
(0.319,0.034) (0.323,0.034) (0.327,0.034) (0.331,0.034) (0.335,0.034) (0.339,0.034) (0.343,0.034)
(0.319,0.0283) (0.323,0.0283) (0.327,0.0283) (0.331,0.0283) (0.335,0.0283) (0.339,0.0283)
(0.319,0.0227) (0.323,0.0227) (0.327,0.0227) (0.331,0.0227) (0.335,0.0227) (0.339,0.0227)
(0.319,0.017) (0.323,0.017) (0.327,0.017) (0.331,0.017) (0.335,0.017) (0.339,0.017)
(0.319,0.0113) (0.323,0.0113) (0.327,0.0113) (0.331,0.0113) (0.335,0.0113) (0.339,0.0113)
(0.319,0.0057) (0.323,0.0057) (0.327,0.0057) (0.331,0.0057) (0.335,0.0057) (0.339,0.0057)
(0.319,0) (0.323,0) (0.327,0) (0.331,0) (0.335,0) (0.339,0)
(0.319,-0.0057) (0.323,-0.0057) (0.327,-0.0057) (0.331,-0.0057) (0.335,-0.0057) (0.339,-0.0057)
(0.319,-0.0113) (0.323,-0.0113) (0.327,-0.0113) (0.331,-0.0113) (0.335,-0.0113) (0.339,-0.0113)
(0.319,-0.017) (0.323,-0.017) (0.327,-0.017) (0.331,-0.017) (0.335,-0.017) (0.339,-0.017)
(0.319,-0.0227) (0.323,-0.0227) (0.327,-0.0227) (0.331,-0.0227) (0.335,-0.0227) (0.339,-0.0227)
(0.319,-0.0283) (0.323,-0.0283) (0.327,-0.0283) (0.331,-0.0283) (0.335,-0.0283) (0.339,-0.0283)
(0.321,-0.034) (0.325,-0.034) (0.329,-0.034) (0.333,-0.034) (0.337,-0.034) (0.341,-0.034)
(0.3007,-0.0069) (0.317,0.0143) (0.317,0.0016) (0.3178,-0.0211) (0.321,-0.0297) (0.33,0.038) (0.325,0.037) (0.33,-0.038)
};
\addlegendentry{L24T6 b6.3}
\addplot[s64] coordinates {
(0.355,0.030) (0.360,0.030) (0.365,0.030) (0.370,0.030)
(0.347,0.0235) (0.352,0.0235) (0.357,0.0235) (0.362,0.0235) (0.367,0.0235) (0.372,0.0235) (0.377,0.0235)
(0.343,0.017) (0.348,0.017) (0.353,0.017) (0.358,0.017) (0.363,0.017) (0.368,0.017) (0.373,0.017) (0.378,0.017) (0.382,0.017)
(0.340,0.0105) (0.345,0.0105) (0.350,0.0105) (0.355,0.0105) (0.360,0.0105) (0.365,0.0105) (0.370,0.0105) (0.375,0.0105) (0.380,0.0105) (0.384,0.0105)
(0.339,0.004) (0.344,0.004) (0.349,0.004) (0.354,0.004) (0.359,0.004) (0.364,0.004) (0.369,0.004) (0.374,0.004) (0.379,0.004) (0.384,0.004)
(0.338,-0.0025) (0.343,-0.0025) (0.348,-0.0025) (0.353,-0.0025) (0.358,-0.0025) (0.363,-0.0025) (0.368,-0.0025) (0.373,-0.0025) (0.378,-0.0025) (0.383,-0.0025) (0.386,-0.0025)
(0.339,-0.009) (0.344,-0.009) (0.349,-0.009) (0.354,-0.009) (0.359,-0.009) (0.364,-0.009) (0.369,-0.009) (0.374,-0.009) (0.379,-0.009) (0.384,-0.009)
(0.341,-0.0155) (0.346,-0.0155) (0.351,-0.0155) (0.356,-0.0155) (0.361,-0.0155) (0.366,-0.0155) (0.371,-0.0155) (0.376,-0.0155) (0.381,-0.0155)
(0.343,-0.022) (0.348,-0.022) (0.353,-0.022) (0.358,-0.022) (0.363,-0.022) (0.368,-0.022) (0.373,-0.022) (0.378,-0.022)
(0.348,-0.0285) (0.353,-0.0285) (0.358,-0.0285) (0.363,-0.0285) (0.368,-0.0285) (0.373,-0.0285)
(0.355,-0.034) (0.360,-0.034) (0.365,-0.034) (0.370,-0.034)
(0.3488,0.0433) (0.3415,0.037) (0.3354,0.0306) (0.3345,-0.0386) (0.3476,-0.043) (0.337,0.02) (0.336,0.008) (0.336,-0.012) (0.337,-0.024) (0.343,0.028) (0.342,-0.031)
};
\addlegendentry{L24T6 b6.4}
\end{axis}
\end{tikzpicture}
\end{document}
